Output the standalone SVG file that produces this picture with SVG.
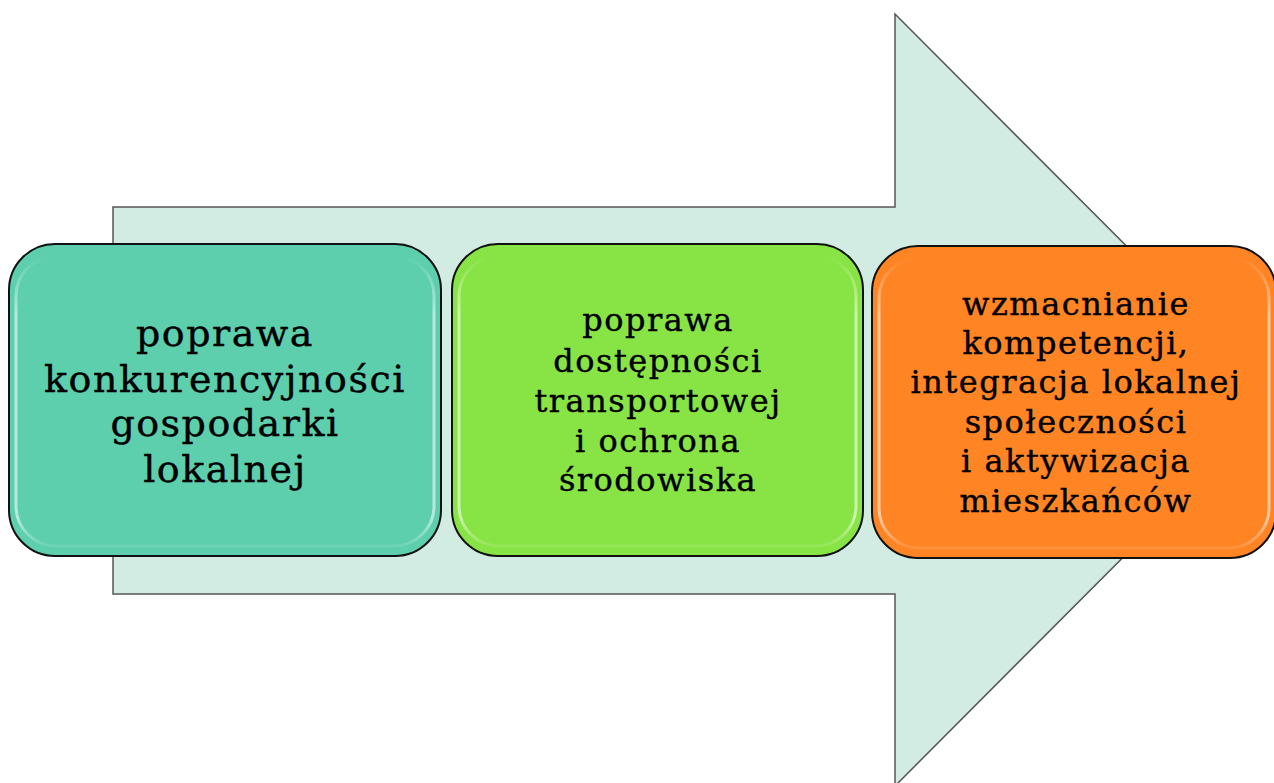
<svg xmlns="http://www.w3.org/2000/svg" width="1274" height="783" viewBox="0 0 1274 783">
<defs>
<style>
.box{stroke:#111;stroke-width:2}
.gloss{fill:none;stroke:url(#gl);stroke-width:3}
.t{font-family:"DejaVu Serif","Liberation Serif",serif;fill:#000;stroke:#000;stroke-width:0.4;text-anchor:middle;letter-spacing:1.5px}
.big{font-size:38px}
.mid{font-size:32px}
</style>
<linearGradient id="gl" x1="0" y1="0" x2="0" y2="1">
<stop offset="0" stop-color="#fff" stop-opacity="0"/>
<stop offset="0.2" stop-color="#fff" stop-opacity="0.55"/>
<stop offset="0.9" stop-color="#fff" stop-opacity="0.55"/>
<stop offset="1" stop-color="#fff" stop-opacity="0.1"/>
</linearGradient>
</defs>
<rect width="1274" height="783" fill="#fff"/>
<g id="connectors">
<path d="M113,207 H895 V14 L1280,400 L895,786 V594 H113 Z" fill="#d3ece3" stroke="#555" stroke-width="1.5"/>
</g>
<g id="node1">
<rect class="box" x="9" y="244" width="432" height="312" rx="46" fill="#5dcfad"/>
<rect class="gloss" x="16" y="256" width="418" height="290" rx="40"/>
<text class="t big" x="225" y="346">poprawa</text>
<text class="t big" x="225" y="392">konkurencyjności</text>
<text class="t big" x="225" y="436">gospodarki</text>
<text class="t big" x="225" y="482">lokalnej</text>
</g>
<g id="node2">
<rect class="box" x="452" y="244" width="411" height="312" rx="46" fill="#88e445"/>
<rect class="gloss" x="459" y="256" width="397" height="290" rx="40"/>
<text class="t mid" x="658" y="331">poprawa</text>
<text class="t mid" x="658" y="372">dostępności</text>
<text class="t mid" x="658" y="412">transportowej</text>
<text class="t mid" x="658" y="452">i ochrona</text>
<text class="t mid" x="658" y="491">środowiska</text>
</g>
<g id="node3">
<rect class="box" x="872" y="246" width="404" height="312" rx="46" fill="#ff8424"/>
<rect class="gloss" x="879" y="258" width="390" height="290" rx="40"/>
<text class="t mid" x="1076" y="315">wzmacnianie</text>
<text class="t mid" x="1076" y="354">kompetencji,</text>
<text class="t mid" x="1076" y="393">integracja lokalnej</text>
<text class="t mid" x="1076" y="433">społeczności</text>
<text class="t mid" x="1076" y="472">i aktywizacja</text>
<text class="t mid" x="1076" y="512">mieszkańców</text>
</g>
</svg>
